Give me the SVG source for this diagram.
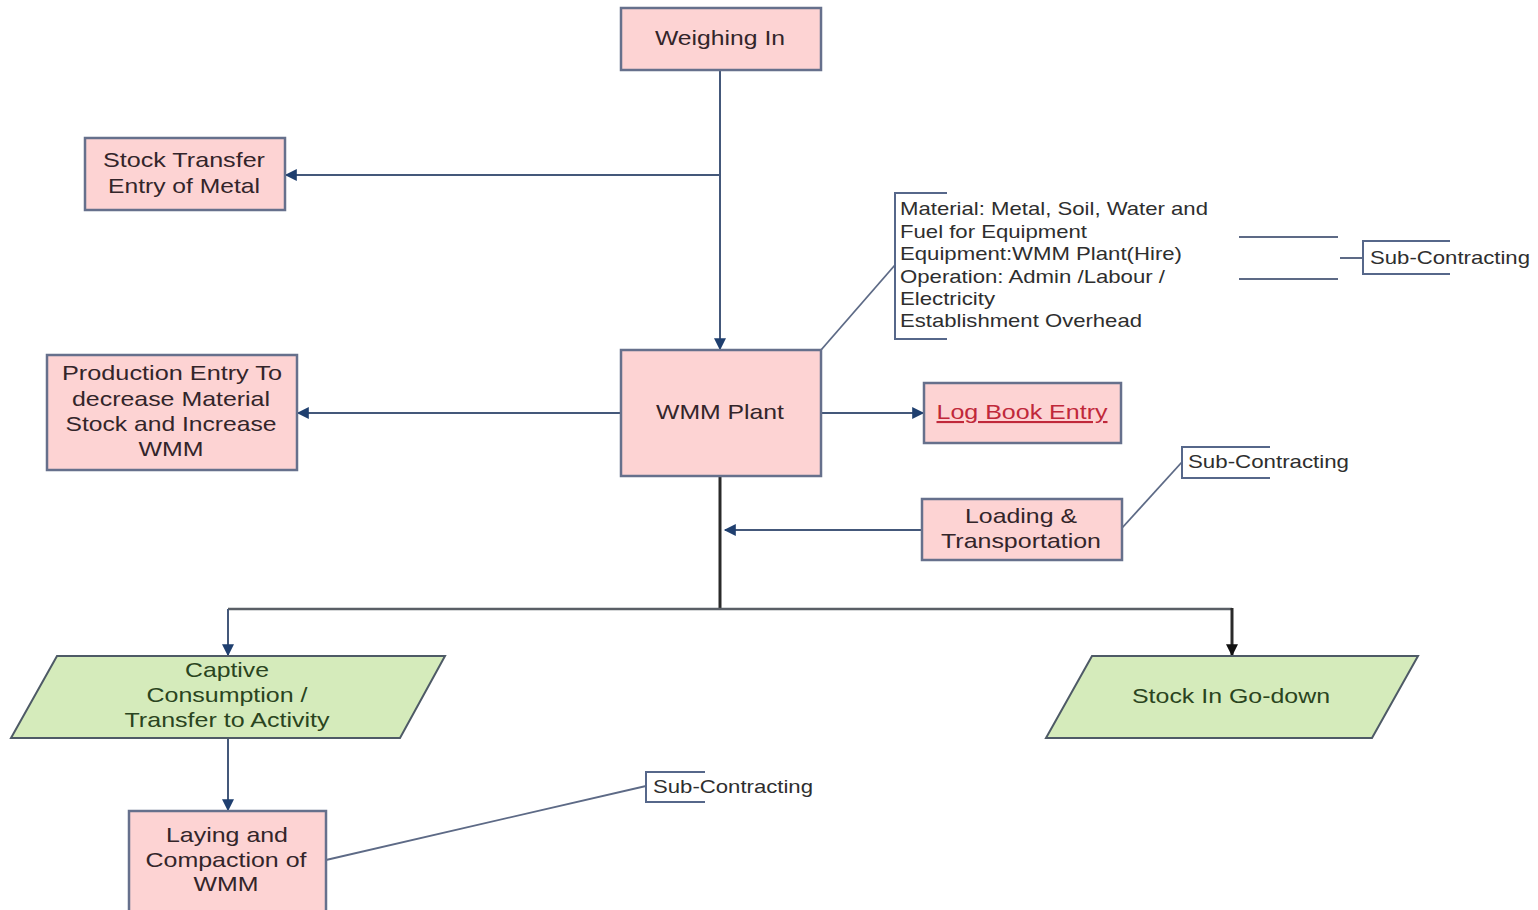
<svg xmlns="http://www.w3.org/2000/svg" width="1538" height="910" viewBox="0 0 1538 910">
  <style>
    .box { fill: #fdd3d3; stroke: #66708c; stroke-width: 2.5; }
    .io { fill: #d5ebbb; stroke: #4e5a66; stroke-width: 2; }
    .t { font-family: "Liberation Sans", Arial, sans-serif; font-size: 21px; fill: #33252a; text-anchor: middle; }
    .tg { font-family: "Liberation Sans", Arial, sans-serif; font-size: 21px; fill: #2a4420; text-anchor: middle; }
    .note { font-family: "Liberation Sans", Arial, sans-serif; font-size: 19px; fill: #2e2e2e; }
    .link { fill: #c0283a; text-decoration: underline; }
    .conn { fill: none; stroke: #44587a; stroke-width: 2; }
    .dark { fill: none; stroke: #2a2a2a; stroke-width: 3; }
    .grey { fill: none; stroke: #5a5f66; stroke-width: 2.5; }
    .thin { fill: none; stroke: #5d6a86; stroke-width: 1.8; }
    .brk { fill: none; stroke: #56678a; stroke-width: 2; }
  </style>
  <defs>
    <marker id="ah" viewBox="0 0 10 10" refX="9" refY="5" markerWidth="13" markerHeight="12" orient="auto" markerUnits="userSpaceOnUse">
      <path d="M0,0 L10,5 L0,10 z" fill="#1f3f6f"/>
    </marker>
    <marker id="ahb" viewBox="0 0 10 10" refX="9" refY="5" markerWidth="13" markerHeight="12" orient="auto" markerUnits="userSpaceOnUse">
      <path d="M0,0 L10,5 L0,10 z" fill="#111"/>
    </marker>
  </defs>
  <rect width="1538" height="910" fill="#ffffff"/>

  <g id="connectors">
    <!-- main feed down to the plant -->
    <path class="conn" d="M720,70 V349" marker-end="url(#ah)"/>
    <path class="conn" d="M720,175 H286" marker-end="url(#ah)"/>
    <path class="conn" d="M621,413 H298" marker-end="url(#ah)"/>
    <path class="conn" d="M821,413 H923" marker-end="url(#ah)"/>
    <path class="conn" d="M922,530 H725" marker-end="url(#ah)"/>
    <!-- output trunk -->
    <path class="dark" d="M720,476 V609"/>
    <path class="grey" d="M720,609 H228"/>
    <path class="conn" d="M228,609 V655" marker-end="url(#ah)"/>
    <path class="grey" d="M720,609 H1232"/>
    <path class="dark" d="M1232,608 V655" stroke-width="2.5" marker-end="url(#ahb)"/>
    <path class="conn" d="M228,738 V810" marker-end="url(#ah)"/>
    <!-- annotation leaders -->
    <path class="thin" d="M821,350 L895,265"/>
    <path class="thin" d="M1122,528 L1182,462"/>
    <path class="thin" d="M326,860 L646,786"/>
    <path class="thin" d="M1239,237 H1338 M1239,279 H1338 M1340,258 H1363"/>
  </g>

  <g id="weighing-in">
    <rect class="box" x="621" y="8" width="200" height="62"/>
    <text class="t" x="720" y="45" textLength="130" lengthAdjust="spacingAndGlyphs">Weighing In</text>
  </g>

  <g id="stock-transfer">
    <rect class="box" x="85" y="138" width="200" height="72"/>
    <text class="t" x="184" y="167" textLength="162" lengthAdjust="spacingAndGlyphs">Stock Transfer</text>
    <text class="t" x="184" y="193" textLength="152" lengthAdjust="spacingAndGlyphs">Entry of Metal</text>
  </g>

  <g id="production-entry">
    <rect class="box" x="47" y="355" width="250" height="115"/>
    <text class="t" x="172" y="380" textLength="220" lengthAdjust="spacingAndGlyphs">Production Entry To</text>
    <text class="t" x="171" y="406" textLength="198" lengthAdjust="spacingAndGlyphs">decrease Material</text>
    <text class="t" x="171" y="431" textLength="211" lengthAdjust="spacingAndGlyphs">Stock and Increase</text>
    <text class="t" x="171" y="456" textLength="65" lengthAdjust="spacingAndGlyphs">WMM</text>
  </g>

  <g id="wmm-plant">
    <rect class="box" x="621" y="350" width="200" height="126"/>
    <text class="t" x="720" y="419" textLength="128" lengthAdjust="spacingAndGlyphs">WMM Plant</text>
  </g>

  <g id="log-book-entry">
    <rect class="box" x="924" y="383" width="197" height="60"/>
    <text class="t link" x="1022" y="419" textLength="171" lengthAdjust="spacingAndGlyphs">Log Book Entry</text>
  </g>

  <g id="loading-transportation">
    <rect class="box" x="922" y="499" width="200" height="61"/>
    <text class="t" x="1021" y="523" textLength="112" lengthAdjust="spacingAndGlyphs">Loading &amp;</text>
    <text class="t" x="1021" y="548" textLength="160" lengthAdjust="spacingAndGlyphs">Transportation</text>
  </g>

  <g id="captive-consumption">
    <polygon class="io" points="57,656 445,656 400,738 11,738"/>
    <text class="tg" x="227" y="677" textLength="84" lengthAdjust="spacingAndGlyphs">Captive</text>
    <text class="tg" x="227" y="702" textLength="161" lengthAdjust="spacingAndGlyphs">Consumption /</text>
    <text class="tg" x="227" y="727" textLength="205" lengthAdjust="spacingAndGlyphs">Transfer to Activity</text>
  </g>

  <g id="stock-in-godown">
    <polygon class="io" points="1092,656 1418,656 1372,738 1046,738"/>
    <text class="tg" x="1231" y="703" textLength="198" lengthAdjust="spacingAndGlyphs">Stock In Go-down</text>
  </g>

  <g id="laying-compaction">
    <rect class="box" x="129" y="811" width="197" height="104"/>
    <text class="t" x="227" y="842" textLength="122" lengthAdjust="spacingAndGlyphs">Laying and</text>
    <text class="t" x="226" y="867" textLength="161" lengthAdjust="spacingAndGlyphs">Compaction of</text>
    <text class="t" x="226" y="891" textLength="65" lengthAdjust="spacingAndGlyphs">WMM</text>
  </g>

  <g id="cost-elements">
    <path class="brk" d="M947,193 H895 V339 H947"/>
    <text class="note" x="900" y="215" textLength="308" lengthAdjust="spacingAndGlyphs">Material: Metal, Soil, Water and</text>
    <text class="note" x="900" y="238" textLength="187" lengthAdjust="spacingAndGlyphs">Fuel for Equipment</text>
    <text class="note" x="900" y="260" textLength="282" lengthAdjust="spacingAndGlyphs">Equipment:WMM Plant(Hire)</text>
    <text class="note" x="900" y="283" textLength="265" lengthAdjust="spacingAndGlyphs">Operation: Admin /Labour /</text>
    <text class="note" x="900" y="305" textLength="95" lengthAdjust="spacingAndGlyphs">Electricity</text>
    <text class="note" x="900" y="327" textLength="242" lengthAdjust="spacingAndGlyphs">Establishment Overhead</text>
  </g>

  <g id="subcontracting-plant">
    <path class="brk" d="M1450,241 H1363 V274 H1450"/>
    <text class="note" x="1370" y="264" textLength="160" lengthAdjust="spacingAndGlyphs">Sub-Contracting</text>
  </g>

  <g id="subcontracting-transport">
    <path class="brk" d="M1270,447 H1182 V478 H1270"/>
    <text class="note" x="1188" y="468" textLength="161" lengthAdjust="spacingAndGlyphs">Sub-Contracting</text>
  </g>

  <g id="subcontracting-laying">
    <path class="brk" d="M705,772 H646 V802 H705"/>
    <text class="note" x="653" y="793" textLength="160" lengthAdjust="spacingAndGlyphs">Sub-Contracting</text>
  </g>
</svg>
